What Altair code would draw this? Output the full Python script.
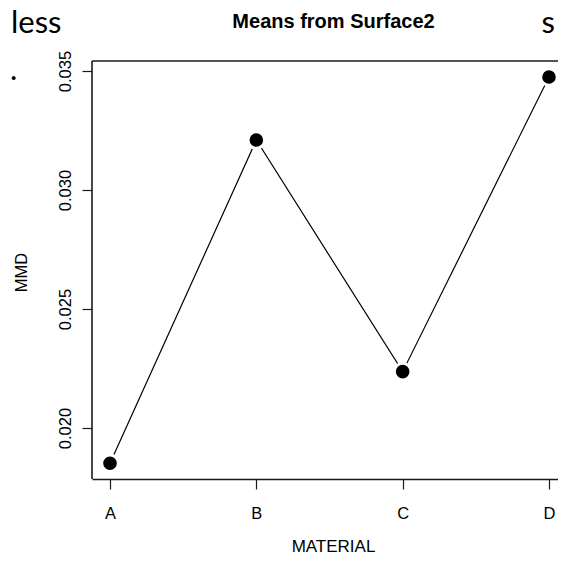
import altair as alt
import pandas as pd

# ---- data ----
materials = ["A", "B", "C", "D"]
x_positions = [1, 2, 3, 4]
mmd_means = [0.01852, 0.0321, 0.02237, 0.03475]
y_ticks = [0.020, 0.025, 0.030, 0.035]
chart_title = "Means from Surface2"
fragments_left = ["less"]
fragment_dot = ["."]
fragments_right = ["s"]

df = pd.DataFrame({"MATERIAL": materials, "pos": x_positions, "MMD": mmd_means})

FONT = "Liberation Sans"
W, H = 466, 418
INK = "#1a1a1a"

label_expr = "[" + ",".join(f"'{m}'" for m in materials) + "][datum.value - 1]"

xscale = alt.Scale(domain=[0.877, 4.0616], nice=False, zero=False)
yscale = alt.Scale(domain=[0.01786, 0.03542], nice=False, zero=False)

x_axis = alt.Axis(
    values=x_positions, labelExpr=label_expr, grid=False,
    tickSize=10, tickColor=INK, tickWidth=1.2,
    domainColor=INK, domainWidth=1.6,
    labelFont=FONT, labelFontSize=16.5, labelColor="black",
    labelAngle=0, labelBaseline="alphabetic", labelPadding=29,
    title="MATERIAL", titleFont=FONT, titleFontSize=17,
    titleFontWeight="normal", titleColor="black",
    titleBaseline="alphabetic", titleY=72, titleX=241, titleAlign="center",
)
y_axis = alt.Axis(
    values=y_ticks, format=".3f", grid=False, domain=False,
    tickSize=10, tickColor=INK, tickWidth=1.2,
    labelFont=FONT, labelFontSize=16.5, labelColor="black",
    labelAngle=270, labelAlign="center", labelBaseline="alphabetic",
    labelPadding=12,
    title="MMD", titleFont=FONT, titleFontSize=16.5,
    titleFontWeight="normal", titleColor="black",
    titleAngle=270, titleAlign="center", titleBaseline="alphabetic",
    titleX=-66, titleY=211,
)

base = alt.Chart(df).encode(
    x=alt.X("pos:Q", scale=xscale, axis=x_axis),
    y=alt.Y("MMD:Q", scale=yscale, axis=y_axis),
)

line = base.mark_line(color="black", strokeWidth=1.2)
halo = base.mark_circle(size=380, color="white", opacity=1)
dots = base.mark_circle(size=185, color="black", opacity=1)

# top and left sides of the R-style box: rules with a single value span the view
box = pd.DataFrame({"k": [0]})
frame_top = alt.Chart(box).mark_rule(color=INK, strokeWidth=1.6).encode(
    y=alt.value(0)
)
frame_left = alt.Chart(box).mark_rule(color=INK, strokeWidth=1.6).encode(
    x=alt.value(0)
)

title_txt = alt.Chart(pd.DataFrame({"t": [chart_title]})).mark_text(
    font=FONT, fontSize=20, fontWeight="bold", color="black",
    align="center", baseline="alphabetic"
).encode(text="t:N", x=alt.value(241.5), y=alt.value(-33))

less_txt = alt.Chart(pd.DataFrame({"t": fragments_left})).mark_text(
    font="Lato", fontSize=31, color="black", align="left", baseline="alphabetic"
).encode(text="t:N", x=alt.value(-81), y=alt.value(-28))

dot_txt = alt.Chart(pd.DataFrame({"t": fragment_dot})).mark_text(
    font="Lato", fontSize=31, color="black", align="left", baseline="alphabetic"
).encode(text="t:N", x=alt.value(-82), y=alt.value(19))

s_txt = alt.Chart(pd.DataFrame({"t": fragments_right})).mark_text(
    font="Lato", fontSize=31, color="black", align="right", baseline="alphabetic"
).encode(text="t:N", x=alt.value(W - 3), y=alt.value(-28))

chart = alt.layer(
    line, halo, dots, frame_top, frame_left, title_txt, less_txt, dot_txt, s_txt
).properties(
    width=W, height=H,
    autosize=alt.AutoSizeParams(type="none"),
    padding={"left": 84, "top": 53, "right": 0, "bottom": 75},
    background="white",
).configure_view(strokeWidth=0, stroke="transparent")

chart.save("out.html", embed_options={"renderer": "svg", "actions": False})
